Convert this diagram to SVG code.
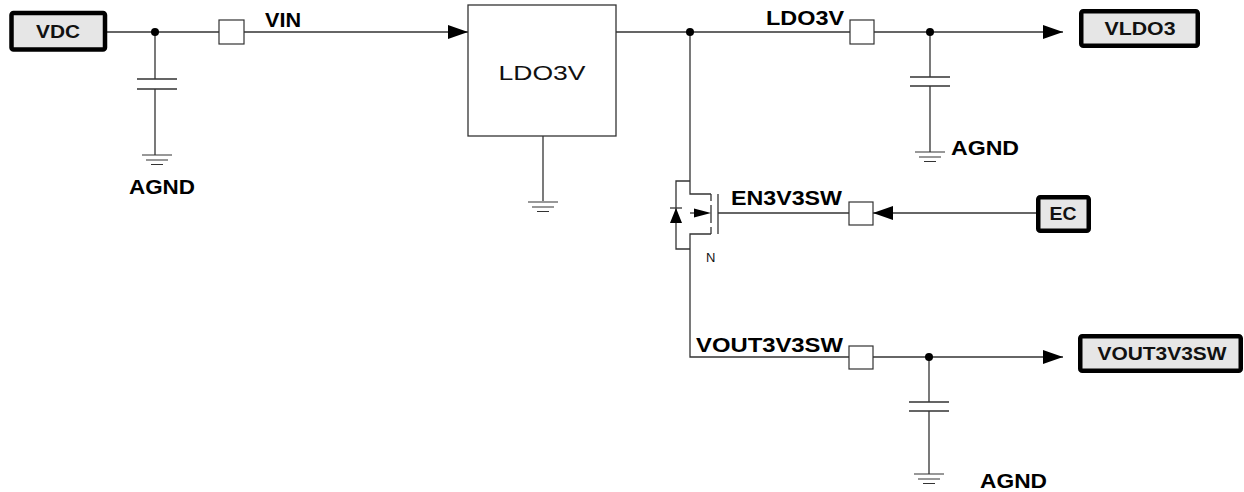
<svg xmlns="http://www.w3.org/2000/svg" width="1244" height="492" viewBox="0 0 1244 492">
<style>
.w{stroke:#333;stroke-width:1.3;fill:none}
.port{fill:#e6e6e6;stroke:#000;stroke-width:4.5}
.pt{font-family:"Liberation Sans",Arial,sans-serif;font-weight:bold;font-size:18px;fill:#111;text-anchor:middle}
.lb{font-family:"Liberation Sans",Arial,sans-serif;font-weight:bold;font-size:21px;fill:#000}
.sq{fill:#fff;stroke:#333;stroke-width:1.2}
.dot{fill:#000}
</style>
<defs>
<marker id="arr" markerUnits="userSpaceOnUse" markerWidth="20" markerHeight="14" refX="20" refY="7" orient="auto">
<path d="M0,0 L20,7 L0,14 z" fill="#000"/>
</marker>
<g id="gnd-sym">
<path d="M-15,0 H15 M-11,5 H11 M-6,9.5 H6" stroke="#333" stroke-width="1.2" fill="none"/>
</g>
</defs>
<rect width="1244" height="492" fill="#fff"/>
<g id="connectors">
<path class="w" d="M107,32 H219"/>
<path class="w" d="M244,32 H468" marker-end="url(#arr)"/>
<path class="w" d="M616,32 H850 M874,32 H1063" marker-end="url(#arr)"/>
<path class="w" d="M543,136 V201"/>
<path class="w" d="M155,32 V79 M155,89 V155"/>
<path class="w" d="M930,32 V77 M930,86 V152"/>
<path class="w" d="M690,32 V194 H711"/>
<path class="w" d="M1036,213 H873" marker-end="url(#arr)"/>
<path class="w" d="M849,213 H718"/>
<path class="w" d="M711,234 H690 V357 H849"/>
<path class="w" d="M873,357 H1063" marker-end="url(#arr)"/>
<path class="w" d="M929,357 V402 M929,411 V474"/>
<circle class="dot" cx="155" cy="32" r="4"/>
<circle class="dot" cx="690" cy="32" r="4"/>
<circle class="dot" cx="930" cy="32" r="4"/>
<circle class="dot" cx="929" cy="357" r="4"/>
</g>
<g id="VDC"><rect class="port" x="11.5" y="13" width="93.5" height="36.5" rx="2"/><text class="pt" x="58" y="37.5" textLength="44" lengthAdjust="spacingAndGlyphs">VDC</text></g>
<g id="C1"><path class="w" d="M137,79 H177 M137,89 H177"/></g>
<g id="GND1"><use href="#gnd-sym" x="157" y="155"/><text class="lb" x="129" y="194" textLength="66" lengthAdjust="spacingAndGlyphs">AGND</text></g>
<g id="VIN"><rect class="sq" x="219" y="20" width="25" height="24"/><text class="lb" x="265" y="27" textLength="36" lengthAdjust="spacingAndGlyphs">VIN</text></g>
<g id="LDO3V"><rect x="468" y="5" width="148" height="131" fill="#fff" stroke="#333" stroke-width="1.3"/><text x="542" y="80" font-family="'Liberation Sans',Arial,sans-serif" font-size="21" text-anchor="middle" fill="#111" textLength="87" lengthAdjust="spacingAndGlyphs">LDO3V</text></g>
<g id="GND2"><use href="#gnd-sym" x="543" y="202"/></g>
<g id="LDO3V_net"><rect class="sq" x="850" y="20" width="24" height="24"/><text class="lb" x="766" y="25" textLength="78" lengthAdjust="spacingAndGlyphs">LDO3V</text></g>
<g id="C2"><path class="w" d="M910,77 H950 M910,86 H950"/></g>
<g id="GND3"><use href="#gnd-sym" x="930" y="152"/><text class="lb" x="951" y="155" textLength="68" lengthAdjust="spacingAndGlyphs">AGND</text></g>
<g id="VLDO3"><rect class="port" x="1081.25" y="11.25" width="116.5" height="34.5" rx="2"/><text class="pt" x="1140" y="35" textLength="71" lengthAdjust="spacingAndGlyphs">VLDO3</text></g>
<g id="Q1">
<path class="w" d="M711,194 V201 M711,205 V223 M711,227 V234"/>
<path class="w" d="M718,194 V234"/>
<path class="w" d="M690,213 H695"/>
<path d="M694,208.5 L711,213 L694,217.5 z" fill="#000"/>
<path class="w" d="M690,181 H676 V249 H690"/>
<path d="M676,208 L670,223 H682 z" fill="#000"/>
<path class="w" d="M670,208 H682"/>
<text x="706" y="262" font-family="'Liberation Sans',Arial,sans-serif" font-size="13" fill="#111">N</text>
</g>
<g id="EN3V3SW"><rect class="sq" x="849" y="202" width="24" height="23"/><text class="lb" x="731" y="205" textLength="111" lengthAdjust="spacingAndGlyphs">EN3V3SW</text></g>
<g id="EC"><rect class="port" x="1038.25" y="197.25" width="50.5" height="33.5" rx="2"/><text class="pt" x="1063" y="220" textLength="27" lengthAdjust="spacingAndGlyphs">EC</text></g>
<g id="VOUT_net"><rect class="sq" x="849" y="346" width="24" height="23"/><text class="lb" x="696" y="352" textLength="147" lengthAdjust="spacingAndGlyphs">VOUT3V3SW</text></g>
<g id="C3"><path class="w" d="M909,402 H949 M909,411 H949"/></g>
<g id="GND4"><use href="#gnd-sym" x="929" y="474"/><text class="lb" x="980" y="488" textLength="67" lengthAdjust="spacingAndGlyphs">AGND</text></g>
<g id="VOUT3V3SW"><rect class="port" x="1080.25" y="336.25" width="160.5" height="34.5" rx="2"/><text class="pt" x="1162" y="360" textLength="129" lengthAdjust="spacingAndGlyphs">VOUT3V3SW</text></g>
</svg>
